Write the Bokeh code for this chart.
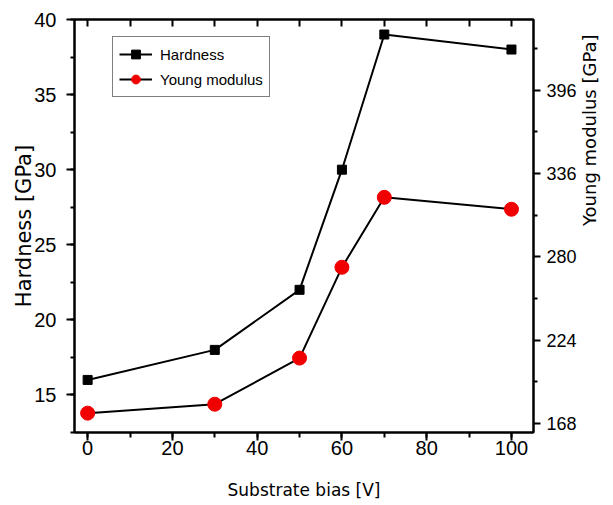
import math
from bokeh.plotting import figure
from bokeh.models import (Range1d, LinearAxis, SingleIntervalTicker, FixedTicker,
                          Legend, LegendItem)
from bokeh.embed import file_html
from bokeh.resources import INLINE

# ---- data ----
bias = [0, 30, 50, 60, 70, 100]                 # Substrate bias [V]
hardness = [16, 18, 22, 30, 39, 38]             # Hardness [GPa]
young = [175, 181, 212, 273, 320, 312]          # Young modulus [GPa]

right_major_ticks = [168, 224, 280, 336, 392]
right_minor_ticks = [196, 252, 308, 364, 420]
right_tick_labels = ["168", "224", "280", "336", "396"]

TICK_FONT = "Liberation Sans"
LABEL_FONT = "DejaVu Sans"

p = figure(width=613, height=505, output_backend="svg", toolbar_location=None,
           x_range=Range1d(-3.1, 105.2), y_range=Range1d(12.5, 40.0),
           min_border_left=74, min_border_right=77, min_border_top=19,
           min_border_bottom=73, background_fill_color="white",
           border_fill_color="white")
p.extra_y_ranges = {"E": Range1d(162, 439.5)}
p.xgrid.visible = False
p.ygrid.visible = False
p.outline_line_color = "black"
p.outline_line_width = 2


def style(ax, fs="20px"):
    ax.axis_line_color = "black"
    ax.axis_line_width = 2
    ax.major_tick_line_color = "black"
    ax.minor_tick_line_color = "black"
    ax.major_tick_line_width = 2
    ax.minor_tick_line_width = 2
    ax.major_label_text_font = TICK_FONT
    ax.major_label_text_font_size = fs
    ax.major_label_text_color = "black"
    ax.axis_label_text_font = LABEL_FONT
    ax.axis_label_text_font_style = "normal"
    ax.axis_label_text_color = "black"


# bottom axis
xa = p.xaxis[0]
xa.ticker = SingleIntervalTicker(interval=20, num_minor_ticks=2)
style(xa)
xa.major_tick_in = 0
xa.major_tick_out = 8
xa.minor_tick_in = 0
xa.minor_tick_out = 5
xa.major_label_standoff = 0
xa.axis_label = "Substrate bias [V]"
xa.axis_label_text_font_size = "17px"
xa.axis_label_standoff = 22

# left axis
ya = p.yaxis[0]
ya.ticker = SingleIntervalTicker(interval=5, num_minor_ticks=2)
style(ya)
ya.major_tick_in = 0
ya.major_tick_out = 8
ya.minor_tick_in = 0
ya.minor_tick_out = 4
ya.major_label_standoff = 10
ya.axis_label = "Hardness [GPa]"
ya.axis_label_text_font_size = "21px"
ya.axis_label_standoff = -5

# right axis
ra = LinearAxis(y_range_name="E")
ra.ticker = FixedTicker(ticks=right_major_ticks, minor_ticks=right_minor_ticks)
ra.major_label_overrides = {t: s for t, s in zip(right_major_ticks, right_tick_labels)}
style(ra, "18px")
ra.major_tick_in = 0
ra.major_tick_out = 7
ra.minor_tick_in = 0
ra.minor_tick_out = 4
ra.major_label_standoff = 6
ra.axis_label = "Young modulus  [GPa]"
ra.axis_label_text_font_size = "18px"
ra.axis_label_standoff = 10
ra.axis_label_orientation = math.pi / 2
p.add_layout(ra, "right")

# top axis (inward ticks, no labels)
ta = LinearAxis()
ta.ticker = SingleIntervalTicker(interval=10, num_minor_ticks=0)
style(ta)
ta.major_tick_in = 7
ta.major_tick_out = 0
ta.minor_tick_in = 0
ta.minor_tick_out = 0
ta.major_label_text_color = None
ta.major_label_text_font_size = "0px"
ta.major_label_standoff = 0
p.add_layout(ta, "above")

# series
h_line = p.line(bias, hardness, line_color="black", line_width=2)
h_pts = p.scatter(bias, hardness, marker="square", size=9,
                  fill_color="black", line_color="black")
e_line = p.line(bias, young, line_color="black", line_width=2, y_range_name="E")
e_pts = p.scatter(bias, young, marker="circle", size=14, fill_color="#f00000",
                  line_color="#f00000", y_range_name="E")

legend = Legend(items=[LegendItem(label="Hardness", renderers=[h_line, h_pts]),
                       LegendItem(label="Young modulus", renderers=[e_line, e_pts])],
                location=(38, 335))
legend.label_text_font = TICK_FONT
legend.label_text_font_size = "15px"
legend.label_text_color = "black"
legend.border_line_color = "black"
legend.border_line_width = 1
legend.background_fill_color = "white"
legend.background_fill_alpha = 1.0
legend.glyph_width = 33
legend.glyph_height = 22
legend.label_height = 22
legend.label_standoff = 8
legend.spacing = 3
legend.padding = 6
legend.margin = 0
p.add_layout(legend, "center")

open("out.html", "w").write(file_html(p, INLINE))
